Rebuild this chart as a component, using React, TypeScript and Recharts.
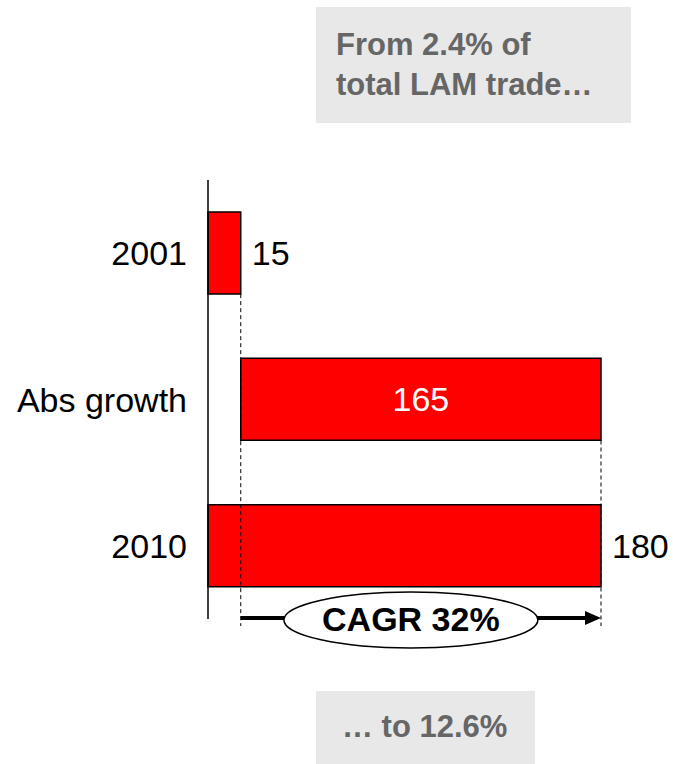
import React from 'react';
import { BarChart, Bar, XAxis, YAxis, LabelList, ReferenceArea } from 'recharts';

// values
const categories = ['2001', 'Abs growth', '2010'];
const baseValues = [0, 15, 0];
const barValues = [15, 165, 180];
const growthStart = 15;
const growthEnd = 180;
const cagrText = 'CAGR 32%';
const noteTop = ['From 2.4% of', 'total LAM trade…'];
const noteBottom = '… to 12.6%';

const data = categories.map((name, i) => ({
  name,
  base: baseValues[i],
  value: barValues[i]
}));

const W = 673;
const H = 764;
const BAR = 82;
const RED = '#ff0000';
const FONT = '"Liberation Sans", Arial, sans-serif';

// value label: outside right for totals, centered white for the growth bar
const ValueLabel = (props: any) => {
  const { x, y, width, height, value, index } = props;
  if (index === 1) {
    return (
      <text x={x + width / 2} y={y + height / 2} fill="#fff" fontSize={34} fontFamily={FONT}
        textAnchor="middle" dominantBaseline="central">{value}</text>
    );
  }
  return (
    <text x={x + width + 11} y={y + height / 2} fill="#000" fontSize={34} fontFamily={FONT}
      textAnchor="start" dominantBaseline="central">{value}</text>
  );
};

// dashed connectors + CAGR arrow, drawn from the reference area's own coordinates
const GrowthOverlay = (props: any) => {
  const { x, y, width, height } = props;
  const band = height / categories.length;
  const bottom = y + height;
  const x0 = x;
  const x1 = x + width;
  const ay = bottom - 1;
  const cx = x + width / 2 - 10;
  return (
    <g>
      <line x1={x0} y1={y + band * 0.5 + BAR / 2} x2={x0} y2={bottom + 7} stroke="#000" strokeWidth={1} strokeDasharray="4 3" />
      <line x1={x1} y1={y + band * 1.5 + BAR / 2} x2={x1} y2={bottom + 7} stroke="#000" strokeWidth={1} strokeDasharray="4 3" />
      <line x1={x0} y1={ay} x2={x1 - 14} y2={ay} stroke="#000" strokeWidth={4} />
      <polygon points={`${x1},${ay} ${x1 - 16},${ay - 7} ${x1 - 16},${ay + 7}`} fill="#000" />
      <ellipse cx={cx} cy={ay + 2} rx={127} ry={28} fill="#fff" stroke="#000" strokeWidth={1.5} />
      <text x={cx} y={ay + 1} fontSize={34} fontWeight="bold" fontFamily={FONT} fill="#000"
        textAnchor="middle" dominantBaseline="central">{cagrText}</text>
    </g>
  );
};

const boxStyle: React.CSSProperties = {
  position: 'absolute',
  background: '#e8e8e8',
  color: '#666',
  fontFamily: FONT,
  fontWeight: 'bold',
  fontSize: 31,
  lineHeight: '40px',
  boxSizing: 'border-box'
};

export default function App() {
  return (
    <div style={{ position: 'absolute', left: 0, top: 0, width: W, height: H, background: '#fff', overflow: 'hidden' }}>
      <div style={{ ...boxStyle, left: 316, top: 7, width: 315, height: 116, paddingLeft: 20, paddingTop: 18 }}>
        {noteTop.map((t, i) => <div key={i}>{t}</div>)}
      </div>
      <div style={{ ...boxStyle, left: 316, top: 691, width: 219, height: 73, paddingLeft: 26, paddingTop: 16 }}>
        {noteBottom}
      </div>
      <div style={{ position: 'absolute', left: 0, top: 0 }}>
        <BarChart width={W} height={H} data={data} layout="vertical"
          margin={{ top: 180, right: 72, bottom: 145, left: 0 }} barCategoryGap={0}>
          <XAxis type="number" domain={[0, 180]} hide />
          <YAxis type="category" dataKey="name" width={208} axisLine={{ stroke: '#000', strokeWidth: 1.5 }}
            tickLine={false} tickSize={0} tickMargin={21}
            tick={{ fill: '#000', fontSize: 34, fontFamily: FONT }} />
          <Bar dataKey="base" stackId="a" fill="transparent" barSize={BAR} isAnimationActive={false} />
          <Bar dataKey="value" stackId="a" fill={RED} stroke="#000" strokeWidth={1.5} barSize={BAR} isAnimationActive={false}>
            <LabelList dataKey="value" content={<ValueLabel />} />
          </Bar>
          <ReferenceArea x1={growthStart} x2={growthEnd} ifOverflow="visible" zIndex={1000} shape={<GrowthOverlay />} />
        </BarChart>
      </div>
    </div>
  );
}
